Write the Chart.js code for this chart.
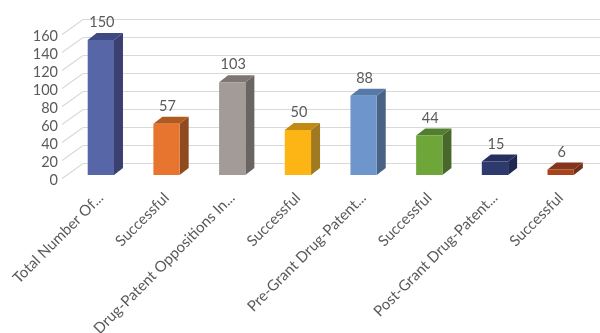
<!DOCTYPE html>
<html>
<head>
<meta charset="utf-8">
<script src="https://cdn.jsdelivr.net/npm/chart.js@4/dist/chart.umd.min.js"></script>
<style>
html, body { margin: 0; padding: 0; background: #fff; }
#wrap { width: 600px; height: 333px; overflow: hidden; }
/* the reference is a soft scan */
#c { filter: blur(0.4px); }
</style>
</head>
<body>
<div id="wrap"><canvas id="c" width="600" height="333"></canvas></div>
<script>
const categories = ['Total Number Of...', 'Successful', 'Drug-Patent Oppositions In...', 'Successful', 'Pre-Grant Drug-Patent...', 'Successful', 'Post-Grant Drug-Patent...', 'Successful'];
const counts = [150, 57, 103, 50, 88, 44, 15, 6];
const tickValues = [0, 20, 40, 60, 80, 100, 120, 140, 160];

const frontColors = ['#5666a6', '#e8752f', '#a39b97', '#fdb515', '#6f96cc', '#6fa63a', '#2e3a6e', '#a8431c'];
const sideColors = ['#3a4070', '#8f4a20', '#6b6561', '#a07a20', '#4a6285', '#47682a', '#1f2850', '#70301a'];
const topColors = ['#3f4a85', '#b05a20', '#7d7672', '#c08a15', '#557aa8', '#527f2f', '#263060', '#85361a'];

const textColor = '#5a5a5a';
const depthX = 9, depthY = 7;      // bar extrusion
const wallX = 83, wallY = 11.5;    // where the back wall sits
const floorX = 62;

// the fake 3d parts: wall gridlines go behind, bar sides on top of them
const fake3d = {
    id: 'fake3d',
    beforeDatasetsDraw(chart) {
        const g = chart.ctx, y = chart.scales.y;
        g.save();
        g.strokeStyle = '#d9d9d9';
        g.lineWidth = 1.2;
        tickValues.forEach(t => {
            const p = y.getPixelForValue(t);
            g.beginPath();
            g.moveTo(floorX, p + 3.5);
            g.lineTo(wallX, p - wallY);
            g.lineTo(600, p - wallY);
            g.stroke();
        });
        chart.getDatasetMeta(0).data.forEach((bar, i) => {
            const l = bar.x - bar.width / 2, r = bar.x + bar.width / 2;
            g.fillStyle = sideColors[i];
            g.beginPath();
            g.moveTo(r, bar.y);
            g.lineTo(r + depthX, bar.y - depthY);
            g.lineTo(r + depthX, bar.base - depthY);
            g.lineTo(r, bar.base);
            g.fill();
            g.fillStyle = topColors[i];
            g.beginPath();
            g.moveTo(l, bar.y);
            g.lineTo(l + depthX, bar.y - depthY);
            g.lineTo(r + depthX, bar.y - depthY);
            g.lineTo(r, bar.y);
            g.fill();
        });
        g.restore();
    },
    afterDatasetsDraw(chart) {
        const g = chart.ctx;
        g.save();
        g.fillStyle = textColor;
        g.font = '14.5px Lato';
        g.textAlign = 'center';
        g.textBaseline = 'middle';
        chart.getDatasetMeta(0).data.forEach((bar, i) => {
            g.fillText(counts[i], bar.x + 1, bar.y - 17.5);
        });
        g.restore();
    }
};

new Chart(document.getElementById('c').getContext('2d'), {
    type: 'bar',
    data: {
        labels: categories,
        datasets: [{
            data: counts,
            backgroundColor: frontColors,
            barPercentage: 0.4,
            categoryPercentage: 1
        }]
    },
    options: {
        responsive: false,
        animation: false,
        layout: { padding: { top: 31, right: 6.5, left: 0, bottom: 0 } },
        plugins: { legend: { display: false }, tooltip: { enabled: false } },
        scales: {
            x: {
                grid: { display: false, drawTicks: false },
                border: { display: false },
                // long rotated labels must not push the plot area in
                afterFit: s => { s.height = 158; s.paddingLeft = 0; s.paddingRight = 0; },
                ticks: {
                    autoSkip: false,
                    minRotation: 45,
                    maxRotation: 45,
                    padding: 14,
                    color: textColor,
                    font: { family: 'Lato', size: 15 }
                }
            },
            y: { display: false, min: 0, max: 160 },
            // labels sit a little below their gridlines, so they get an axis of their own
            yLabels: {
                position: 'left',
                min: 6.1,
                max: 166.1,
                grid: { display: false, drawTicks: false },
                border: { display: false },
                afterBuildTicks: s => { s.ticks = tickValues.map(v => ({ value: v })); },
                afterFit: s => { s.width = 68; },
                ticks: {
                    autoSkip: false,
                    padding: 10,
                    color: textColor,
                    font: { family: 'Lato', size: 14.5 }
                }
            }
        }
    },
    plugins: [fake3d]
});
</script>
</body>
</html>
